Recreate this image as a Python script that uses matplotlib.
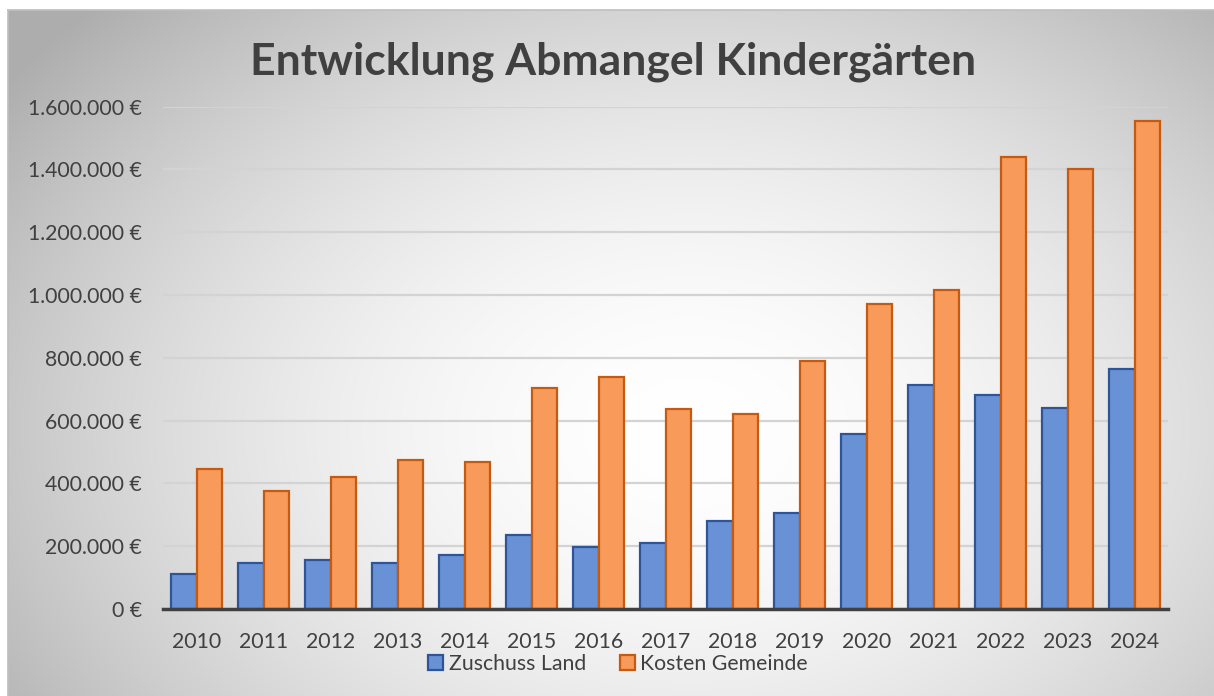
import numpy as np
import matplotlib
matplotlib.use("Agg")
import matplotlib.pyplot as plt
from matplotlib.ticker import FuncFormatter

years = ["2010", "2011", "2012", "2013", "2014", "2015", "2016", "2017",
         "2018", "2019", "2020", "2021", "2022", "2023", "2024"]
zuschuss_land = [112000, 146000, 156000, 146000, 171000, 235000, 196000, 211000,
                 281000, 306000, 558000, 713000, 683000, 641000, 766000]
kosten_gemeinde = [446000, 377000, 421000, 474000, 469000, 705000, 740000, 638000,
                   621000, 790000, 970000, 1016000, 1439000, 1400000, 1556000]
title = "Entwicklung Abmangel Kindergärten"
series_names = ["Zuschuss Land", "Kosten Gemeinde"]

W, H = 1214, 696
plt.rcParams['font.family'] = ['Lato', 'DejaVu Sans']
fig = plt.figure(figsize=(W / 100, H / 100), dpi=100)
fig.patch.set_facecolor("white")

# background radial gradient (chart area starts at x=8, y=10)
x0, y0 = 8, 10
bg = fig.add_axes([x0 / W, 0, (W - x0) / W, (H - y0) / H], zorder=0)
yy, xx = np.mgrid[y0:H, x0:W]
cx, cy = 690, 430
r = np.sqrt(((xx - cx) / 700.0) ** 2 + ((yy - cy) / 500.0) ** 2)
val = 1.0 - 0.23 * np.clip(r, 0, 1.2) ** 1.8
img = np.dstack([val, val, val])
bg.imshow(img, aspect="auto", extent=[0, 1, 0, 1], interpolation="bilinear")
bg.set_xlim(0, 1)
bg.set_ylim(0, 1)
for s in bg.spines.values():
    s.set_color("#bfbfbf")
    s.set_linewidth(1.2)
bg.spines["right"].set_visible(False)
bg.spines["bottom"].set_visible(False)
bg.set_xticks([])
bg.set_yticks([])

# main axes
left, right = 163, 1168
top, bottom = 106.7, 609
ax = fig.add_axes([left / W, 1 - bottom / H, (right - left) / W, (bottom - top) / H], zorder=1)
ax.patch.set_alpha(0)

x = np.arange(len(years))
bw = 0.384
ax.bar(x - bw / 2, zuschuss_land, width=bw, color="#6891d6", edgecolor="#2f5597",
       linewidth=1.6, label=series_names[0], zorder=3)
ax.bar(x + bw / 2, kosten_gemeinde, width=bw, color="#f79a5a", edgecolor="#c55a11",
       linewidth=1.6, label=series_names[1], zorder=3)

ax.set_xlim(-0.5, len(years) - 0.5)
ax.set_ylim(0, 1600000)
ax.set_yticks(np.arange(0, 1600001, 200000))
ax.yaxis.set_major_formatter(FuncFormatter(
    lambda v, p: "{:,.0f} €".format(v).replace(",", ".")))
ax.set_xticks(x)
ax.set_xticklabels(years)
ax.grid(axis="y", color="#d3d3d3", linewidth=1.6, zorder=0)
ax.set_axisbelow(True)
for s in ["top", "right", "left"]:
    ax.spines[s].set_visible(False)
ax.spines["bottom"].set_color("#404040")
ax.spines["bottom"].set_linewidth(2.5)
ax.spines["bottom"].set_zorder(4)
ax.tick_params(axis="both", length=0, labelsize=15.3, labelcolor="#404040")
ax.tick_params(axis="x", pad=16.5)
ax.tick_params(axis="y", pad=15)

fig.text(613 / W, 1 - 62 / H, title, ha="center", va="center",
         fontsize=32, fontweight="bold", color="#404040")

handles, labels = ax.get_legend_handles_labels()
fig.legend(handles, labels, loc="center", bbox_to_anchor=(618 / W, 1 - 664 / H),
           ncol=2, frameon=False, fontsize=15.3, labelcolor="#404040",
           handlelength=0.7, handleheight=0.7, handletextpad=0.25,
           columnspacing=1.6)

fig.savefig("out.png", dpi=100)
